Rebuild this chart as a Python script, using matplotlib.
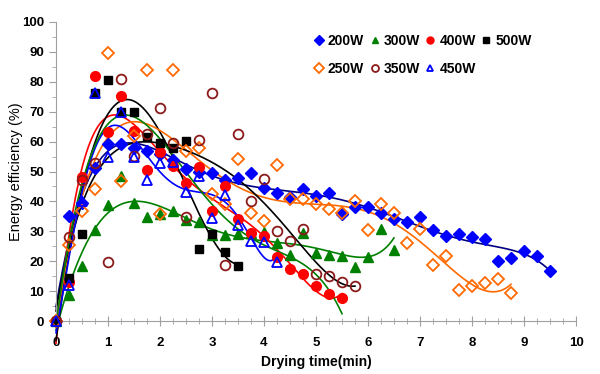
import numpy as np
import matplotlib
matplotlib.use("Agg")
import matplotlib.pyplot as plt
from matplotlib.ticker import MultipleLocator

plt.rcParams['font.family'] = ['Liberation Sans', 'DejaVu Sans']

step = 0.25

w200 = [0, 35.2, 39.4, 51.1, 59.1, 59.1, 57.8, 56.9, 55.8, 54.0, 51.0, 50.0,
        49.6, 47.2, 47.9, 49.6, 44.6, 42.9, 41.6, 44.0, 41.9, 42.9, 35.7, 38.0,
        38.2, 36.2, 34.0, 33.2, 34.9, 30.4, 28.5, 29.1, 28.0, 27.4, 20.1, 21.0,
        23.5, 21.7, 16.8]
w250 = [0, 25.4, 36.7, 44.0, 89.5, 46.8, 62.0, 83.8, 35.7, 83.8, 57.0, 58.0,
        42.5, 39.2, 54.3, 36.2, 33.4, 52.3, 40.7, 40.7, 39.0, 37.5, 36.0, 40.1,
        30.4, 39.1, 36.2, 26.2, 30.7, 18.7, 21.7, 10.4, 11.7, 12.6, 13.9, 9.3]
w300 = [0, 8.7, 18.3, 30.4, 38.8, 48.4, 39.6, 34.8, 35.8, 36.8, 33.8, 33.2,
        28.8, 28.6, 29.1, 29.3, 29.9, 26.2, 22.1, 29.3, 22.6, 22.1, 21.7, 18.2,
        21.5, 30.9, 23.7]
w350 = [0, 28.1, 47.0, 53.0, 19.7, 81.1, 55.2, 62.5, 71.1, 59.6, 34.7, 60.4,
        76.1, 18.6, 62.4, 40.1, 47.5, 30.1, 26.8, 30.7, 15.6, 15.2, 13.2, 11.7]
w400 = [0, 13.0, 48.0, 81.9, 63.1, 75.4, 63.5, 50.5, 56.5, 52.0, 46.3, 51.6,
        36.8, 45.2, 34.0, 29.3, 28.5, 21.5, 17.3, 15.6, 11.8, 8.9, 7.8]
w450 = [0, 12.0, 40.0, 76.4, 55.0, 70.0, 55.0, 47.3, 52.7, 53.3, 43.2, 48.5,
        34.3, 42.0, 32.0, 26.8, 26.5, 19.8]
w500 = [0, 14.3, 29.0, 76.4, 80.6, 70.0, 69.8, 61.6, 59.4, 57.8, 60.2, 24.0,
        29.0, 23.0, 18.3]

# name, values, marker style, trend colour, trend polynomial order
series = [
    ("200W", w200, dict(marker='D', color='#0000FF', mfc='#0000FF', ms=6), '#000080', 6),
    ("300W", w300, dict(marker='^', color='#008000', mfc='#008000', ms=7), '#008000', 6),
    ("400W", w400, dict(marker='o', color='#FF0000', mfc='#FF0000', ms=7), '#FF0000', 6),
    ("500W", w500, dict(marker='s', color='#000000', mfc='#000000', ms=6), '#000000', 4),
    ("250W", w250, dict(marker='D', color='#FF6A00', mfc='none', ms=6, mew=1.3), '#FF6A00', 6),
    ("350W", w350, dict(marker='o', color='#8B1A1A', mfc='none', ms=7, mew=1.3), '#000000', 6),
    ("450W", w450, dict(marker='^', color='#0000FF', mfc='none', ms=7, mew=1.3), '#0000FF', 6),
]

fig = plt.figure(figsize=(6.0, 3.74), dpi=100)
ax = fig.add_axes([56/600, 53/374, 520/600, 299/374])

handles = {}
for name, vals, st, lc, deg in series:
    y = np.array(vals, dtype=float)
    x = np.arange(len(y)) * step
    coef = np.polyfit(x, y, deg)
    xs = np.linspace(0, x[-1], 300)
    ax.plot(xs, np.polyval(coef, xs), color=lc, lw=1.2, zorder=2, clip_on=False)
    h, = ax.plot(x, y, ls='none', zorder=3, clip_on=False, **st)
    handles[name] = h

# extra lower-order trend on 400W data
y4 = np.array(w400, dtype=float)
x4 = np.arange(len(y4)) * step
c3 = np.polyfit(x4, y4, 4)
xs = np.linspace(0, x4[-1], 300)
ax.plot(xs, np.polyval(c3, xs), color='#008000', lw=1.2, zorder=2, clip_on=False)

ax.set_xlim(0, 10)
ax.set_ylim(0, 100)
ax.xaxis.set_major_locator(MultipleLocator(1))
ax.xaxis.set_minor_locator(MultipleLocator(0.25))
ax.yaxis.set_major_locator(MultipleLocator(10))
ax.yaxis.set_minor_locator(MultipleLocator(5))
for s in ['top', 'right']:
    ax.spines[s].set_visible(False)
for s in ['left', 'bottom']:
    ax.spines[s].set_color('#A0A0A0')
ax.tick_params(which='both', color='#A0A0A0')
ax.tick_params(axis='x', which='major', direction='inout', length=7, pad=8)
ax.tick_params(axis='x', which='minor', direction='inout', length=4)
ax.tick_params(axis='y', which='major', direction='out', length=5)
ax.tick_params(axis='y', which='minor', direction='out', length=3)
for lab in ax.get_xticklabels() + ax.get_yticklabels():
    lab.set_fontweight('bold')
    lab.set_fontsize(9.5)

ax.set_xlabel('Drying time(min)', fontsize=10, fontweight='bold', labelpad=4)
ax.set_ylabel('Energy efficiency (%)', fontsize=10.5, labelpad=-1)

order = ["200W", "250W", "300W", "350W", "400W", "450W", "500W"]
leg = ax.legend([handles[n] for n in order], order, ncol=4, loc='upper left',
                bbox_to_anchor=(0.487, 0.978), frameon=False, handlelength=0.6,
                handletextpad=0.35, columnspacing=0.45, labelspacing=1.0,
                borderaxespad=0, prop={'weight': 'bold', 'size': 10})
for lh in leg.legend_handles:
    lh.set_markersize(5)

fig.savefig('out.png', dpi=100)
